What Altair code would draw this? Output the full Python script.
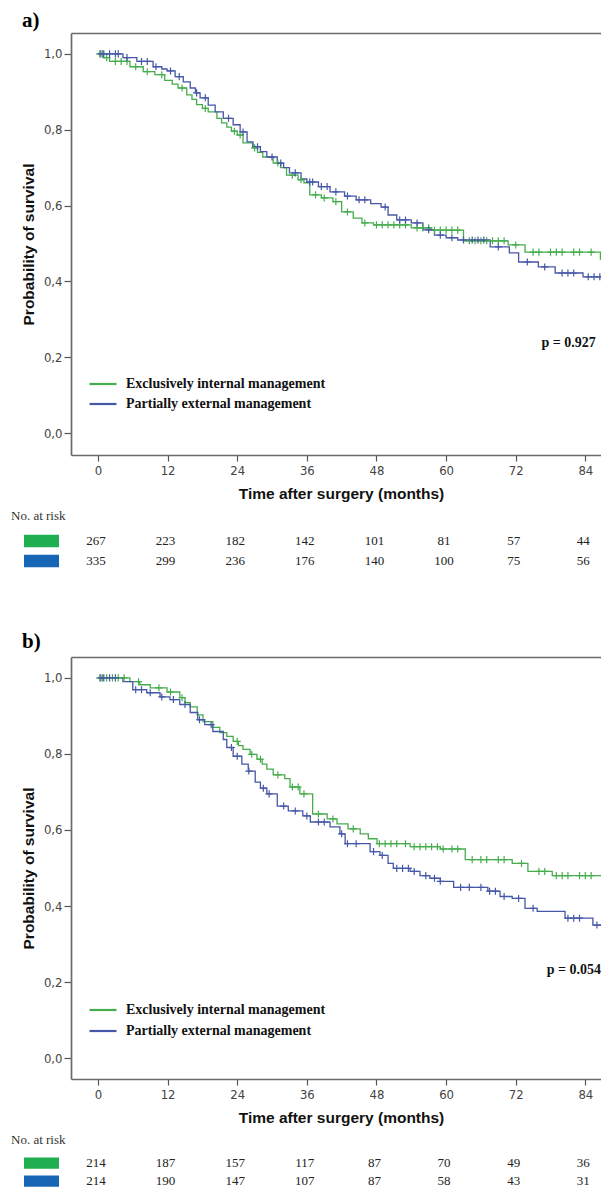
import altair as alt
import pandas as pd

GROUPS = ["Exclusively internal management", "Partially external management"]
LINE_COLORS = ["#46ad4d", "#4657a8"]
SWATCH_COLORS = ["#1fae50", "#1766b6"]
MONTH_TICKS = [0, 12, 24, 36, 48, 60, 72, 84]
Y_TICKS = [0.0, 0.2, 0.4, 0.6, 0.8, 1.0]
X_DOMAIN = [-4.65, 86.7]
FOLLOW_UP_END = 92

SERIF = "Liberation Serif"
SANS = "Liberation Sans"
NARROW = "Liberation Sans Narrow, DejaVu Sans Condensed, Liberation Sans"
PLUS = "M0,-1V1M-1,0H1"
FRAME = "#6a6a6a"

# ---------- panel a ----------
A_INT_TIME = [0, 0.9, 2.0, 5.5, 7.8, 9.8, 11.5, 12.8, 13.8, 15.3, 16.2, 17.0, 18.0, 19.0, 20.5, 21.3,
              22.2, 23.0, 24.0, 25.0, 26.7, 27.5, 28.4, 30.2, 31.5, 32.5, 34.5, 35.5, 36.5, 38.5,
              40.5, 42.0, 44.0, 45.5, 47.5, 54.0, 57.5, 63.0, 70.7, 73.6, 86.6]
A_INT_SURV = [1.0, 0.99, 0.98, 0.966, 0.953, 0.945, 0.93, 0.92, 0.91, 0.892, 0.88, 0.866, 0.856, 0.847,
              0.83, 0.818, 0.807, 0.796, 0.786, 0.765, 0.752, 0.74, 0.728, 0.712, 0.70, 0.68, 0.668,
              0.66, 0.628, 0.62, 0.61, 0.583, 0.567, 0.554, 0.549, 0.541, 0.535, 0.507, 0.496, 0.477,
              0.459]
A_INT_CENS = [0.3, 0.8, 1.5, 3, 4, 5, 6.5, 8.5, 11, 14.5, 18.5, 23.5, 24.5, 27, 31, 33.5, 35, 37.5, 39,
              41, 43, 46, 48, 49, 50, 51, 52, 53, 55, 56, 57, 58, 59, 60, 61, 62, 64, 65, 66, 67, 68,
              69, 70, 72, 75, 76, 78, 79, 80, 82, 83, 85, 87.5]
A_EXT_TIME = [0, 4.3, 6.7, 9.5, 11.0, 11.9, 13.3, 14.7, 15.9, 16.8, 17.6, 19.0, 20.2, 21.6, 23.3, 24.5,
              25.7, 26.7, 28.0, 29.1, 30.9, 32.0, 33.0, 35.0, 36.0, 38.0, 40.0, 42.5, 44.5, 47.0, 48.8,
              50.0, 51.5, 54.0, 56.0, 58.0, 60.0, 62.0, 67.6, 70.9, 72.5, 75.9, 78.8, 83.6]
A_EXT_SURV = [1.0, 0.99, 0.98, 0.966, 0.96, 0.955, 0.94, 0.926, 0.91, 0.897, 0.884, 0.865, 0.847, 0.83,
              0.813, 0.794, 0.768, 0.755, 0.742, 0.728, 0.712, 0.70, 0.686, 0.67, 0.662, 0.65, 0.636,
              0.625, 0.615, 0.605, 0.596, 0.575, 0.562, 0.554, 0.536, 0.522, 0.515, 0.509, 0.491,
              0.475, 0.451, 0.438, 0.422, 0.412]
A_EXT_CENS = [0.5, 1, 2, 3, 3.5, 5, 7.5, 8.5, 10, 12.5, 14, 17, 18.5, 22.5, 25, 27.5, 30, 31.5, 34,
              36.5, 37, 38.5, 39.5, 41, 43, 45, 46, 49.5, 52, 53, 55, 57, 59, 61, 63, 64.5, 65.5, 66.5,
              69, 74, 77, 80, 81, 82, 84.5, 85.5, 86.5, 87.5]
A_RISK_INT = [267, 223, 182, 142, 101, 81, 57, 44]
A_RISK_EXT = [335, 299, 236, 176, 140, 100, 75, 56]
A_P = {"label": "p = 0.927", "time": 85.8, "surv": 0.237}

# ---------- panel b ----------
B_INT_TIME = [0, 5.5, 7.2, 9.0, 11.9, 14.1, 15.0, 15.9, 17.1, 18.1, 19.8, 21.0, 22.2, 23.3, 24.2, 25.0,
              26.2, 27.4, 28.3, 29.1, 30.2, 32.2, 33.1, 34.8, 37.0, 39.5, 41.2, 43.1, 45.2, 46.6,
              48.1, 53.8, 59.0, 63.3, 71.4, 74.1, 78.3, 87.7]
B_INT_SURV = [1.0, 0.99, 0.982, 0.974, 0.963, 0.948, 0.935, 0.924, 0.903, 0.885, 0.87, 0.856, 0.846,
              0.833, 0.822, 0.812, 0.799, 0.786, 0.773, 0.76, 0.745, 0.735, 0.713, 0.695, 0.642, 0.629,
              0.616, 0.603, 0.59, 0.577, 0.564, 0.556, 0.55, 0.522, 0.512, 0.491, 0.48, 0.467]
B_INT_CENS = [0.3, 0.8, 1.5, 2.5, 3.5, 4.5, 7, 10.5, 12.5, 14.5, 24, 26.5, 28, 31, 33.5, 34.5, 35.5,
              38, 40.5, 44, 48.5, 49.5, 50.5, 51.5, 53, 54.5, 55.5, 56.5, 57.5, 58.5, 59.5, 61, 62,
              64.5, 66, 67, 69, 70, 73, 76, 77, 79, 80, 81, 83, 84, 85, 88]
B_EXT_TIME = [0, 4.3, 6.0, 8.4, 10.7, 12.4, 14.1, 15.9, 17.2, 18.4, 19.8, 21.6, 22.2, 23.3, 24.8, 25.9,
              27.1, 28.0, 29.1, 30.9, 32.8, 35.3, 36.6, 40.0, 41.7, 42.6, 46.9, 48.6, 50.0, 50.9,
              53.8, 55.5, 57.2, 59.0, 61.3, 67.2, 69.3, 71.4, 73.6, 75.7, 80.5, 85.3]
B_EXT_SURV = [1.0, 0.99, 0.969, 0.961, 0.95, 0.943, 0.93, 0.909, 0.89, 0.877, 0.859, 0.838, 0.817,
              0.794, 0.773, 0.755, 0.726, 0.71, 0.695, 0.663, 0.65, 0.637, 0.621, 0.608, 0.59, 0.564,
              0.543, 0.533, 0.512, 0.499, 0.491, 0.48, 0.473, 0.465, 0.449, 0.439, 0.425, 0.42, 0.394,
              0.386, 0.368, 0.35]
B_EXT_CENS = [0.5, 1, 2, 3, 6.5, 7.5, 9, 11, 13, 15, 17.5, 19.5, 23, 24, 26, 28.5, 29.5, 32, 34, 36,
              38, 39, 42, 43, 44.5, 47.5, 49, 51.5, 52.5, 53.5, 54.5, 56.5, 58, 59, 62.5, 64, 66, 67.5,
              68.5, 70, 72.5, 75, 81, 82, 83, 86, 87]
B_RISK_INT = [214, 187, 157, 117, 87, 70, 49, 36]
B_RISK_EXT = [214, 190, 147, 107, 87, 58, 43, 31]
B_P = {"label": "p = 0.054", "time": 86.7, "surv": 0.231}


def surv_at(times, survs, t):
    s = survs[0]
    for ti, si in zip(times, survs):
        if ti <= t:
            s = si
    return s


def km_panel(label, curves, censors, p_info, y_domain, height, legend_y, row_pad, title_offset):
    line_rows, cens_rows = [], []
    for g, (ts, ss), cs in zip(GROUPS, curves, censors):
        for t, s in zip(ts, ss):
            line_rows.append({"group": g, "time": t, "surv": s})
        line_rows.append({"group": g, "time": FOLLOW_UP_END, "surv": ss[-1]})
        for c in cs:
            cens_rows.append({"group": g, "time": c, "surv": surv_at(ts, ss, c)})
    line_df = pd.DataFrame(line_rows)
    cens_df = pd.DataFrame(cens_rows)

    xscale = alt.Scale(domain=X_DOMAIN, nice=False, zero=False)
    x = alt.X("time:Q", scale=xscale,
              axis=alt.Axis(values=MONTH_TICKS, title="Time after surgery (months)", grid=False,
                            domain=True, domainColor=FRAME, domainWidth=1.7,
                            tickSize=6, tickColor="#555", tickWidth=1.2,
                            labelFont=NARROW, labelFontSize=13, labelColor="#444", labelPadding=3,
                            titleFont=SANS, titleFontSize=15.5, titleFontWeight="bold",
                            titleColor="#111", titlePadding=9, titleX=270))
    x_top = alt.X("time:Q", scale=xscale,
                  axis=alt.Axis(orient="top", labels=False, ticks=False, title=None, grid=False,
                                domain=True, domainColor=FRAME, domainWidth=1.7))
    y = alt.Y("surv:Q", scale=alt.Scale(domain=y_domain, nice=False, zero=False),
              axis=alt.Axis(values=Y_TICKS, title="Probability of survival", grid=False,
                            domain=True, domainColor=FRAME, domainWidth=1.7,
                            tickSize=7, tickColor="#555", tickWidth=1.2,
                            labelExpr="replace(format(datum.value, '.1f'), '.', ',')",
                            labelFont=NARROW, labelFontSize=13, labelColor="#444", labelPadding=2,
                            titleFont=SANS, titleFontSize=15.5, titleFontWeight="bold",
                            titleColor="#111", titlePadding=7))
    color = alt.Color("group:N", scale=alt.Scale(domain=GROUPS, range=LINE_COLORS),
                      legend=alt.Legend(title=None, orient="none", legendX=25, legendY=legend_y,
                                        symbolType="M-3,0H3", symbolSize=81, symbolStrokeWidth=2.2,
                                        labelFont=SERIF, labelFontSize=14, labelFontWeight="bold",
                                        labelColor="#111", labelOffset=16, rowPadding=row_pad,
                                        padding=0, labelLimit=0))
    lines = alt.Chart(line_df).mark_line(interpolate="step-after", strokeWidth=1.3, clip=True).encode(
        x=x, y=y, color=color)
    cens = alt.Chart(cens_df).mark_point(shape=PLUS, size=50, filled=False, strokeWidth=1.2,
                                         opacity=1, clip=True).encode(
        x=alt.X("time:Q", axis=None), y="surv:Q",
        color=alt.Color("group:N", scale=alt.Scale(domain=GROUPS, range=LINE_COLORS), legend=None))
    ptxt = alt.Chart(pd.DataFrame([p_info])).mark_text(
        font=SERIF, fontSize=14, fontWeight="bold", align="right", baseline="middle",
        color="#111").encode(x=x_top, y="surv:Q", text="label:N")
    return alt.layer(lines, cens, ptxt).resolve_axis(x="independent").properties(
        width=530, height=height,
        title=alt.TitleParams(label, anchor="start", frame="group", dx=-49, font=SERIF,
                              fontSize=21, fontWeight="bold", color="#000", offset=title_offset),
        view=alt.ViewBackground(strokeWidth=0, stroke=None))


def risk_table(risk_int, risk_ext, height, title_offset):
    df = pd.DataFrame({"group": [GROUPS[0]] * len(MONTH_TICKS) + [GROUPS[1]] * len(MONTH_TICKS),
                       "time": MONTH_TICKS + MONTH_TICKS,
                       "n": risk_int + risk_ext})
    sw_df = pd.DataFrame({"group": GROUPS})
    ybin = alt.Y("group:N", scale=alt.Scale(domain=GROUPS, paddingInner=0.375, paddingOuter=0.1875),
                 axis=None)
    sw = alt.Chart(sw_df).mark_rect().encode(
        x=alt.value(-47), x2=alt.value(-12), y=ybin,
        color=alt.Color("group:N", scale=alt.Scale(domain=GROUPS, range=SWATCH_COLORS), legend=None))
    nums = alt.Chart(df).mark_text(font=SERIF, fontSize=13, color="#222", baseline="middle",
                                   dx=-2).encode(
        x=alt.X("time:Q", scale=alt.Scale(domain=X_DOMAIN, nice=False, zero=False), axis=None),
        y=ybin, text="n:Q")
    return alt.layer(sw, nums).properties(
        width=530, height=height,
        title=alt.TitleParams("No. at risk", anchor="start", frame="group", dx=-60, font=SERIF,
                              fontSize=13, fontWeight="normal", color="#333", offset=title_offset),
        view=alt.ViewBackground(strokeWidth=0, stroke=None))


km_a = km_panel("a)", [(A_INT_TIME, A_INT_SURV), (A_EXT_TIME, A_EXT_SURV)], [A_INT_CENS, A_EXT_CENS],
                A_P, [-0.058, 1.055], 422, 344, 6, 2)
km_b = km_panel("b)", [(B_INT_TIME, B_INT_SURV), (B_EXT_TIME, B_EXT_SURV)], [B_INT_CENS, B_EXT_CENS],
                B_P, [-0.055, 1.055], 422, 346, 7, 5)
risk_a = risk_table(A_RISK_INT, A_RISK_EXT, 40, 8)
risk_b = risk_table(B_RISK_INT, B_RISK_EXT, 36, 7)

res = dict(color="independent", x="independent", y="independent")
panel_a = alt.vconcat(km_a, risk_a, spacing=8).resolve_scale(**res).resolve_legend(color="independent")
panel_b = alt.vconcat(km_b, risk_b, spacing=8).resolve_scale(**res).resolve_legend(color="independent")

chart = alt.vconcat(panel_a, panel_b, spacing=60).resolve_scale(**res).resolve_legend(
    color="independent").configure(padding={"left": 3, "top": 2, "right": 0, "bottom": 0})

chart.save("out.html", embed_options={"renderer": "svg", "actions": False})
